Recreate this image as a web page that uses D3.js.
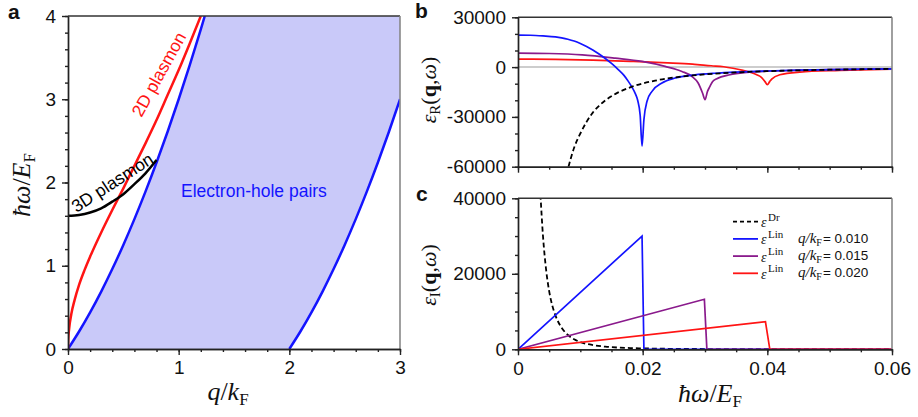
<!DOCTYPE html>
<html>
<head>
<meta charset="utf-8">
<script src="https://cdn.jsdelivr.net/npm/d3@7"></script>
<style>
  body { margin: 0; background: #fff; }
  text { font-family: Arial, "Liberation Sans", sans-serif; fill: #111; }
  .math { font-family: "Liberation Serif", "Times New Roman", serif; }
  .axis .domain, .axis line { stroke: #222; stroke-width: 1.4; }
  .axis text { font-size: 19px; fill: #111; }
</style>
</head>
<body>
<div class="chart-container"></div>
<script>
// panel a : q/kF vs hbar w / EF
var ehUpper = [[0, 0], [0.1, 0.21], [0.2, 0.44], [0.3, 0.69], [0.4, 0.96], [0.5, 1.25], [0.6, 1.56],
  [0.7, 1.89], [0.8, 2.24], [0.9, 2.61], [1.0, 3.0], [1.1, 3.41], [1.2, 3.84], [1.236, 4.0]];
var ehLower = [[2.0, 0], [2.1, 0.21], [2.2, 0.44], [2.3, 0.69], [2.4, 0.96], [2.5, 1.25], [2.6, 1.56],
  [2.7, 1.89], [2.8, 2.24], [2.9, 2.61], [3.0, 3.0]];
var plasmon2D = [[0, 0], [0.002, 0.11], [0.01, 0.24], [0.03, 0.42], [0.06, 0.59], [0.1, 0.77], [0.15, 0.95],
  [0.2, 1.11], [0.3, 1.40], [0.4, 1.67], [0.5, 1.93], [0.6, 2.20], [0.7, 2.47], [0.8, 2.75], [0.9, 3.05],
  [1.0, 3.35], [1.1, 3.67], [1.2, 4.0]];
var plasmon3D = [[0, 1.6], [0.1, 1.61], [0.2, 1.64], [0.3, 1.69], [0.4, 1.77], [0.5, 1.86], [0.6, 1.98],
  [0.7, 2.11], [0.8, 2.27]];
var aXTicks = [0, 1, 2, 3];
var aYTicks = [0, 1, 2, 3, 4];

// panel b : real part
var drudeR = [[0.0081, -60000], [0.009, -48600], [0.01, -40000], [0.011, -33000], [0.012, -27400],
  [0.013, -23300], [0.014, -20100], [0.016, -15400], [0.018, -12200], [0.02, -9850], [0.022, -8140],
  [0.025, -6300], [0.028, -5030], [0.03, -4380], [0.035, -3220], [0.04, -2460], [0.045, -1950],
  [0.05, -1580], [0.055, -1300], [0.06, -1090]];
var linR010 = [[0, 19300], [0.002, 19200], [0.004, 18800], [0.006, 18200], [0.007, 17600], [0.008, 16800],
  [0.009, 15700], [0.01, 14200], [0.011, 12400], [0.012, 10300], [0.013, 7900], [0.014, 5200],
  [0.015, 2200], [0.016, -1200], [0.017, -5000], [0.0177, -8600], [0.0183, -12200], [0.0188, -15800],
  [0.0192, -20000], [0.0196, -29000], [0.0199, -47600], [0.0202, -31600], [0.0207, -20600],
  [0.0215, -14600], [0.0231, -9600], [0.0252, -6600], [0.0284, -4700], [0.0316, -3700], [0.035, -3000],
  [0.04, -2350], [0.045, -1880], [0.05, -1520], [0.055, -1260], [0.06, -1060]];
var linR015 = [[0, 8400], [0.005, 8200], [0.0103, 7400], [0.0156, 5400], [0.0199, 3400], [0.0236, 400],
  [0.0263, -2600], [0.0279, -5600], [0.0289, -9600], [0.0296, -15600], [0.03, -19600], [0.0304, -14600],
  [0.0308, -11600], [0.0312, -8800], [0.0319, -7000], [0.034, -4600], [0.0367, -3200], [0.04, -2450],
  [0.045, -1950], [0.05, -1560], [0.055, -1290], [0.06, -1080]];
var linR020 = [[0, 4800], [0.006, 4650], [0.012, 4200], [0.018, 3500], [0.024, 2600], [0.028, 1800],
  [0.031, 800], [0.033, 200], [0.0345, -700], [0.0361, -2000], [0.0375, -3400], [0.0383, -4600],
  [0.039, -6000], [0.0396, -8600], [0.04, -10600], [0.0404, -8600], [0.0407, -7200], [0.042, -4600],
  [0.0452, -3000], [0.0516, -2000], [0.06, -1200]];
var bYTicks = [30000, 0, -30000, -60000];

// panel c : imaginary part
var drudeI = [[0.0036, 41000], [0.004, 30200], [0.0045, 21200], [0.005, 15400], [0.0055, 11600],
  [0.006, 9000], [0.007, 5700], [0.008, 3800], [0.009, 2650], [0.01, 1930], [0.012, 1120], [0.014, 700],
  [0.016, 470], [0.018, 330], [0.02, 240], [0.025, 124], [0.03, 71], [0.04, 30], [0.06, 9]];
var linI010 = [[0, 0], [0.0199, 30000], [0.0202, 0], [0.06, 0]];
var linI015 = [[0, 0], [0.0299, 13250], [0.0303, 0], [0.06, 0]];
var linI020 = [[0, 0], [0.0397, 7300], [0.0404, 0], [0.06, 0]];
var cYTicks = [0, 20000, 40000];
var cXTicks = [0, 0.02, 0.04, 0.06];
var qLabels = ['0.010', '0.015', '0.020'];

var linSeries = [
  {re: linR010, im: linI010, q: qLabels[0], color: '#1414ff'},
  {re: linR015, im: linI015, q: qLabels[1], color: '#8a1a8c'},
  {re: linR020, im: linI020, q: qLabels[2], color: '#ff1414'}
];

var svg = d3.select('.chart-container').append('svg')
  .attr('width', 918)
  .attr('height', 417);

var xa = d3.scaleLinear().domain([0, 3]).range([68, 400]);
var ya = d3.scaleLinear().domain([0, 4]).range([349, 16]);
var xb = d3.scaleLinear().domain([0, 0.06]).range([518, 892]);
var yb = d3.scaleLinear().domain([-60000, 30000]).range([166.7, 17.3]);
var yc = d3.scaleLinear().domain([0, 40000]).range([349.3, 198.3]);

var defs = svg.append('defs');
function clip(id, x, y) {
  defs.append('clipPath').attr('id', id).append('rect')
    .attr('x', x.range()[0]).attr('y', y.range()[1])
    .attr('width', x.range()[1] - x.range()[0])
    .attr('height', y.range()[0] - y.range()[1]);
  return 'url(#' + id + ')';
}

function frame(x, y) {
  svg.append('line')
    .attr('x1', x.range()[0]).attr('x2', x.range()[1])
    .attr('y1', y.range()[1]).attr('y2', y.range()[1])
    .style('stroke', '#333').style('stroke-width', 1.4);
  svg.append('line')
    .attr('x1', x.range()[1]).attr('x2', x.range()[1])
    .attr('y1', y.range()[1]).attr('y2', y.range()[0])
    .style('stroke', '#888').style('stroke-width', 1.6);
}

var fmt = d => String(d);

function axes(x, y, xMajor, xStep, yMajor, yStep, xLabels) {
  var y0 = y.range()[0], x0 = x.range()[0];
  var xd = x.domain(), yd = y.domain();
  svg.append('g').attr('class', 'axis').attr('transform', `translate(0,${y0})`)
    .call(d3.axisBottom(x).tickValues(d3.range(xd[0], xd[1] + xStep / 2, xStep)).tickSize(3).tickSizeOuter(0).tickFormat(''));
  svg.append('g').attr('class', 'axis').attr('transform', `translate(0,${y0})`)
    .call(d3.axisBottom(x).tickValues(xMajor).tickSize(6).tickSizeOuter(0).tickPadding(6).tickFormat(xLabels ? fmt : ''));
  svg.append('g').attr('class', 'axis').attr('transform', `translate(${x0},0)`)
    .call(d3.axisLeft(y).tickValues(d3.range(yd[0], yd[1] + yStep / 2, yStep)).tickSize(3).tickSizeOuter(0).tickFormat(''));
  svg.append('g').attr('class', 'axis').attr('transform', `translate(${x0},0)`)
    .call(d3.axisLeft(y).tickValues(yMajor).tickSize(6).tickSizeOuter(0).tickPadding(6).tickFormat(fmt));
}

// ---------- panel a ----------
var lineA = d3.line().x(d => xa(d[0])).y(d => ya(d[1])).curve(d3.curveMonotoneX);
var clipA = clip('clip-a', xa, ya);
var region = ehUpper.concat([[xa.domain()[1], ya.domain()[1]]], ehLower.slice().reverse());
svg.append('path')
  .attr('d', d3.line().x(d => xa(d[0])).y(d => ya(d[1]))(region) + 'Z')
  .attr('clip-path', clipA)
  .style('fill', '#c9c9f9');

[[ehUpper, '#1414ff'], [ehLower, '#1414ff'], [plasmon2D, '#ff1414'], [plasmon3D, '#000']].forEach(function(s) {
  svg.append('path')
    .datum(s[0])
    .attr('d', lineA)
    .attr('clip-path', clipA)
    .style('fill', 'none')
    .style('stroke', s[1])
    .style('stroke-width', 2.5);
});

svg.append('text')
  .attr('transform', `translate(${xa(0.82)},${ya(3.3)}) rotate(-61)`)
  .attr('text-anchor', 'middle').attr('dy', '0.35em')
  .style('font-size', '17.5px').style('fill', '#ff1414')
  .text('2D plasmon');
svg.append('text')
  .attr('transform', `translate(${xa(0.4)},${ya(2.0)}) rotate(-33)`)
  .attr('text-anchor', 'middle').attr('dy', '0.35em')
  .style('font-size', '17.5px').style('fill', '#000')
  .text('3D plasmon');
svg.append('text')
  .attr('x', xa(1.68)).attr('y', ya(1.9))
  .attr('text-anchor', 'middle').attr('dy', '0.35em')
  .style('font-size', '17.5px').style('fill', '#1414ff')
  .text('Electron-hole pairs');

frame(xa, ya);
axes(xa, ya, aXTicks, 0.2, aYTicks, 0.2, true);

// ---------- panel b ----------
var lineB = d3.line().x(d => xb(d[0])).y(d => yb(d[1])).curve(d3.curveMonotoneX);
var clipB = clip('clip-b', xb, yb);
svg.append('line')
  .attr('x1', xb.range()[0]).attr('x2', xb.range()[1])
  .attr('y1', yb(0)).attr('y2', yb(0))
  .style('stroke', '#bdbdbd').style('stroke-width', 1.5);

linSeries.slice().reverse().forEach(function(s) {
  svg.append('path')
    .datum(s.re)
    .attr('d', lineB)
    .attr('clip-path', clipB)
    .style('fill', 'none')
    .style('stroke', s.color)
    .style('stroke-width', 1.7);
});
svg.append('path')
  .datum(drudeR)
  .attr('d', lineB)
  .attr('clip-path', clipB)
  .style('fill', 'none')
  .style('stroke', '#000')
  .style('stroke-width', 1.8)
  .style('stroke-dasharray', '5,3');

frame(xb, yb);
axes(xb, yb, cXTicks, 0.005, bYTicks, 10000, false);

// ---------- panel c ----------
var lineC = d3.line().x(d => xb(d[0])).y(d => yc(d[1]));
var clipC = clip('clip-c', xb, yc);
svg.append('path')
  .datum(drudeI)
  .attr('d', lineC.curve(d3.curveMonotoneX))
  .attr('clip-path', clipC)
  .style('fill', 'none')
  .style('stroke', '#000')
  .style('stroke-width', 1.8)
  .style('stroke-dasharray', '5,3');
lineC.curve(d3.curveLinear);
linSeries.forEach(function(s) {
  svg.append('path')
    .datum(s.im)
    .attr('d', lineC)
    .attr('clip-path', clipC)
    .style('fill', 'none')
    .style('stroke', s.color)
    .style('stroke-width', 1.7);
});

frame(xb, yc);
axes(xb, yc, cXTicks, 0.005, cYTicks, 5000, true);

// legend
var legendRows = [{color: '#000', dash: true, sup: 'Dr'}].concat(
  linSeries.map(s => ({color: s.color, dash: false, sup: 'Lin', q: s.q})));
var legend = svg.append('g').attr('transform', 'translate(733,221.7)');
legendRows.forEach(function(r, i) {
  var g = legend.append('g').attr('transform', `translate(0,${i * 17.2})`);
  g.append('line')
    .attr('x1', 0).attr('x2', 25)
    .style('stroke', r.color).style('stroke-width', 1.8)
    .style('stroke-dasharray', r.dash ? '4,3' : null);
  g.append('text').attr('class', 'math')
    .attr('x', 28).attr('y', 5.5)
    .style('font-size', '14px').style('font-style', 'italic')
    .text('\u03b5');
  g.append('text').attr('class', 'math')
    .attr('x', 35).attr('y', -1)
    .style('font-size', '11px')
    .text(r.sup);
  if (r.q) {
    var t = g.append('text').attr('class', 'math').attr('x', 65).attr('y', 4).style('font-size', '15px');
    t.append('tspan').style('font-style', 'italic').text('q/k');
    t.append('tspan').attr('dy', 3).style('font-size', '10px').text('F');
    t.append('tspan').attr('dy', -3).attr('dx', 1)
      .style('font-family', 'Arial, "Liberation Sans", sans-serif')
      .style('font-size', '13.5px').text('= ' + r.q);
  }
});

// ---------- axis titles & panel letters ----------
function hbarLabel(sel) {
  sel.append('tspan').style('font-style', 'italic').text('\u0127\u03c9');
  sel.append('tspan').text('/');
  sel.append('tspan').style('font-style', 'italic').text('E');
  sel.append('tspan').attr('dy', 5).style('font-size', '17px').text('F');
}
hbarLabel(svg.append('text').attr('class', 'math')
  .attr('transform', 'translate(30,185) rotate(-90)')
  .attr('text-anchor', 'middle')
  .style('font-size', '26px'));
hbarLabel(svg.append('text').attr('class', 'math')
  .attr('x', 710).attr('y', 402)
  .attr('text-anchor', 'middle')
  .style('font-size', '26px'));

var qk = svg.append('text').attr('class', 'math')
  .attr('x', 228).attr('y', 400)
  .attr('text-anchor', 'middle')
  .style('font-size', '26px');
qk.append('tspan').style('font-style', 'italic').text('q');
qk.append('tspan').text('/');
qk.append('tspan').style('font-style', 'italic').text('k');
qk.append('tspan').attr('dy', 5).style('font-size', '17px').text('F');

function epsLabel(sub, cy) {
  var t = svg.append('text').attr('class', 'math')
    .attr('transform', `translate(436,${cy}) rotate(-90)`)
    .attr('text-anchor', 'middle')
    .style('font-size', '22px');
  t.append('tspan').style('font-style', 'italic').text('\u03b5');
  t.append('tspan').attr('dy', 4).style('font-size', '15px').text(sub);
  t.append('tspan').attr('dy', -4).text('(');
  t.append('tspan').style('font-weight', 'bold').text('q');
  t.append('tspan').text(',');
  t.append('tspan').style('font-style', 'italic').text('\u03c9');
  t.append('tspan').text(')');
}
epsLabel('R', 90);
epsLabel('I', 275);

[['a', 8, 19], ['b', 415, 18], ['c', 416, 201]].forEach(function(p) {
  svg.append('text')
    .attr('x', p[1]).attr('y', p[2])
    .style('font-size', '21px').style('font-weight', 'bold')
    .text(p[0]);
});
</script>
</body>
</html>
